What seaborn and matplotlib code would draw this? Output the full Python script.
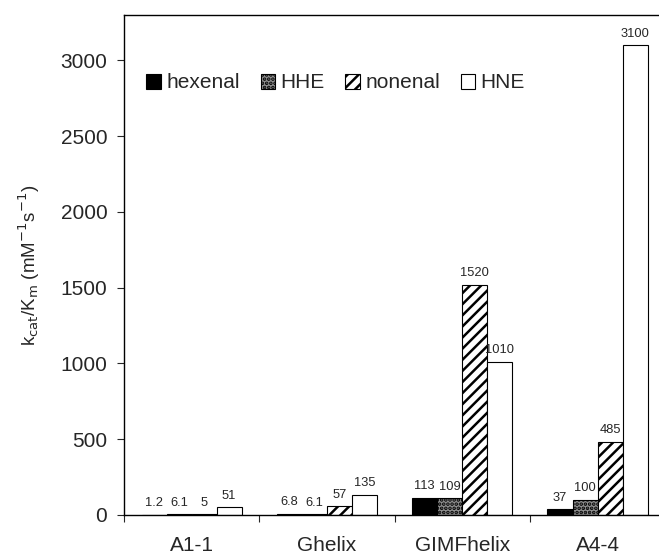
import matplotlib
matplotlib.use("Agg")
import matplotlib.pyplot as plt
from matplotlib.ticker import FixedLocator, NullFormatter
import seaborn as sns
import pandas as pd

# ── Données ─────────────────────────────────────────────────────────────
enzymes = ["A1-1", "Ghelix", "GIMFhelix", "A4-4"]
substrates = ["hexenal", "HHE", "nonenal", "HNE"]
hexenal = [1.2, 6.8, 113, 37]
hhe = [6.1, 6.1, 109, 100]
nonenal = [5, 57, 1520, 485]
hne = [51, 135, 1010, 3100]
value_labels = {
    "hexenal": ["1.2", "6.8", "113", "37"],
    "HHE": ["6.1", "6.1", "109", "100"],
    "nonenal": ["5", "57", "1520", "485"],
    "HNE": ["51", "135", "1010", "3100"],
}

rows = []
for sub, vals in zip(substrates, [hexenal, hhe, nonenal, hne]):
    for enz, v in zip(enzymes, vals):
        rows.append({"enzyme": enz, "substrate": sub, "kcat": v})
df = pd.DataFrame(rows)

sns.set_theme(style="ticks")
plt.rcParams["font.family"] = ["Liberation Sans", "DejaVu Sans"]
plt.rcParams["hatch.linewidth"] = 1.8

fig = plt.figure(figsize=(6.59, 5.57), dpi=100)
ax = fig.add_axes([124 / 659, 42 / 557, 535 / 659, 500 / 557])

palette = {"hexenal": "black", "HHE": "#8f8f8f", "nonenal": "white", "HNE": "white"}
sns.barplot(data=df, x="enzyme", y="kcat", hue="substrate", hue_order=substrates,
            order=enzymes, palette=palette, edgecolor="black", linewidth=0.8,
            width=0.74, gap=0, ax=ax, legend=False)

hatches = {"hexenal": None, "HHE": "....", "nonenal": "///", "HNE": None}
for cont, sub in zip(ax.containers, substrates):
    for p in cont.patches:
        if hatches[sub]:
            p.set_hatch(hatches[sub])
    ax.bar_label(cont, labels=value_labels[sub], padding=4, fontsize=9.3)

ax.set_xlim(-0.5, -0.5 + 535 / 135.3)
ax.set_ylim(0, 3300)
ax.set_yticks(range(0, 3001, 500))
ax.tick_params(axis="y", labelsize=15, length=5, width=0.8, pad=7, direction="out")
ax.tick_params(axis="x", which="major", labelsize=15, length=0, pad=15)
ax.xaxis.set_minor_locator(FixedLocator([-0.5, 0.5, 1.5, 2.5]))
ax.xaxis.set_minor_formatter(NullFormatter())
ax.tick_params(axis="x", which="minor", length=5, width=0.8, direction="out")

ax.set_xlabel("")
ax.set_ylabel(r"k$_{\mathrm{cat}}$/K$_{\mathrm{m}}$ (mM$^{\mathrm{-1}}$s$^{\mathrm{-1}}$)", fontsize=13.5)
ax.yaxis.set_label_coords(-0.153, 0.5)

for side in ["left", "bottom", "top"]:
    ax.spines[side].set_color("black")
    ax.spines[side].set_linewidth(1.0)
ax.spines["right"].set_visible(False)

ax.legend(ax.containers, substrates, loc="center left", bbox_to_anchor=(0.042, 0.864),
          ncol=4, frameon=False, fontsize=15, handlelength=0.7, handleheight=0.7,
          handletextpad=0.25, columnspacing=1.0, borderpad=0, borderaxespad=0)

plt.savefig("out.png", dpi=100)
